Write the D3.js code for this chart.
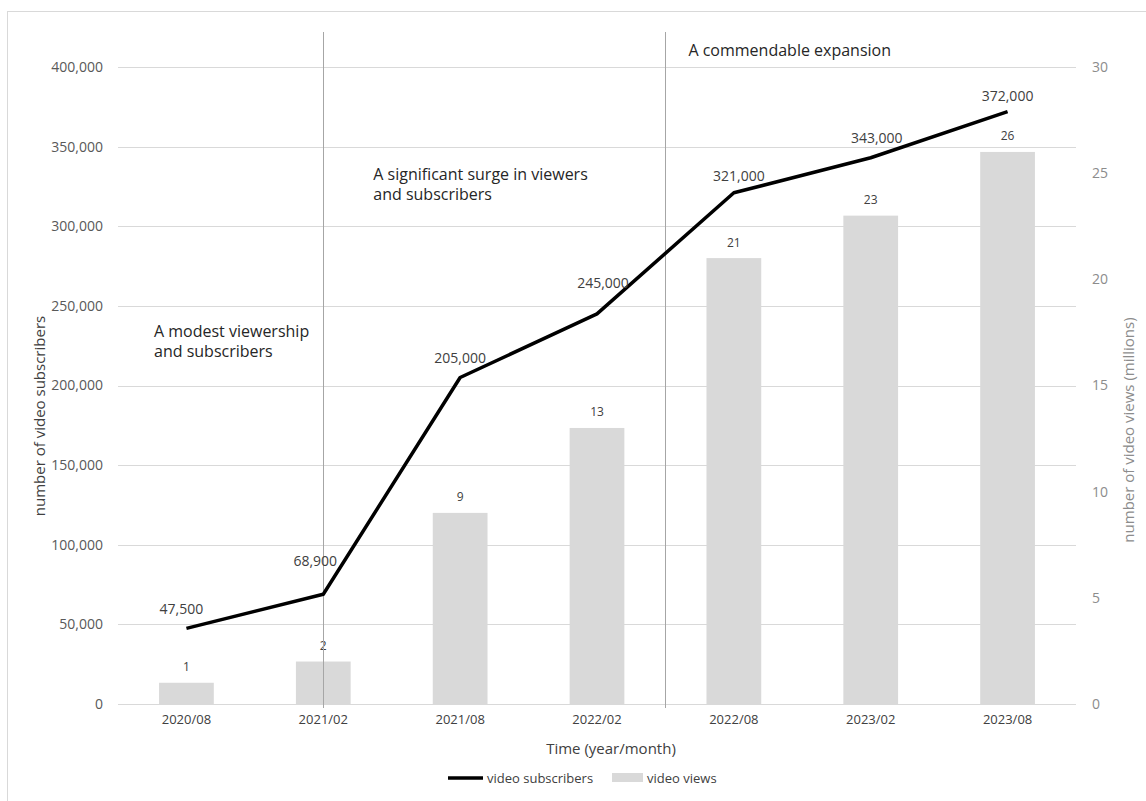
<!DOCTYPE html>
<html>
<head>
<meta charset="utf-8">
<script src="https://cdn.jsdelivr.net/npm/d3@7"></script>
<style>
  html, body { margin: 0; padding: 0; background: #fff; }
  svg { display: block; }
  text { font-family: "Open Sans", "Liberation Sans", sans-serif; }
</style>
</head>
<body>
<svg id="chart" width="1146" height="801"></svg>
<script>
// ---- data ----
const categories = ["2020/08", "2021/02", "2021/08", "2022/02", "2022/08", "2023/02", "2023/08"];
const subscribers = [47500, 68900, 205000, 245000, 321000, 343000, 372000];
const views = [1, 2, 9, 13, 21, 23, 26];
const leftTicks = [0, 50000, 100000, 150000, 200000, 250000, 300000, 350000, 400000];
const rightTicks = [0, 5, 10, 15, 20, 25, 30];
const seriesNames = ["video subscribers", "video views"];
const axisTitles = { x: "Time (year/month)", yLeft: "number of video subscribers", yRight: "number of video views (millions)" };
const notes = [
  ["A modest viewership", "and subscribers"],
  ["A significant surge in viewers", "and subscribers"],
  ["A commendable expansion"]
];

// ---- layout ----
const svg = d3.select("#chart");
const plot = { left: 118, right: 1076, top: 67, bottom: 704 };

const x = d3.scaleBand().domain(categories).range([plot.left, plot.right]).paddingInner(0.6).paddingOuter(0.3);
const cx = c => x(c) + x.bandwidth() / 2;
const yL = d3.scaleLinear().domain([0, 400000]).range([plot.bottom, plot.top]);
const yR = d3.scaleLinear().domain([0, 30]).range([plot.bottom, plot.top]);

// outer frame
svg.append("rect").attr("x", 7.5).attr("y", 11.5).attr("width", 1200).attr("height", 900)
  .attr("fill", "none").attr("stroke", "#d9d9d9").attr("stroke-width", 1);

// gridlines
svg.append("g").selectAll("line").data(leftTicks).join("line")
  .attr("x1", plot.left).attr("x2", plot.right)
  .attr("y1", d => Math.round(yL(d)) + 0.5).attr("y2", d => Math.round(yL(d)) + 0.5)
  .attr("stroke", "#d9d9d9").attr("stroke-width", 1);

// left axis labels
const leftAxis = d3.axisLeft(yL).tickValues(leftTicks).tickFormat(d3.format(",")).tickSize(0).tickPadding(15);
const gL = svg.append("g").attr("transform", `translate(${plot.left},0)`).call(leftAxis);
gL.select(".domain").remove();
gL.selectAll("text").attr("font-size", 14).attr("fill", "#595959").attr("font-family", "Open Sans");

// right axis labels
const rightAxis = d3.axisRight(yR).tickValues(rightTicks).tickSize(0).tickPadding(16);
const gR = svg.append("g").attr("transform", `translate(${plot.right},0)`).call(rightAxis);
gR.select(".domain").remove();
gR.selectAll("text").attr("font-size", 14).attr("fill", "#8c8c8c").attr("font-family", "Open Sans");

// bottom axis labels
const bottomAxis = d3.axisBottom(x).tickSize(0).tickPadding(11);
const gB = svg.append("g").attr("transform", `translate(0,${plot.bottom})`).call(bottomAxis);
gB.select(".domain").remove();
gB.selectAll("text").attr("font-size", 13).attr("fill", "#404040").attr("font-family", "Open Sans");

// bars (video views, right axis)
svg.append("g").selectAll("rect").data(categories).join("rect")
  .attr("x", d => x(d))
  .attr("width", x.bandwidth())
  .attr("y", (d, i) => yR(views[i]))
  .attr("height", (d, i) => plot.bottom - yR(views[i]))
  .attr("fill", "#d9d9d9");

// bar labels
svg.append("g").selectAll("text").data(categories).join("text")
  .attr("x", d => cx(d))
  .attr("y", (d, i) => yR(views[i]) - 16)
  .attr("text-anchor", "middle").attr("dominant-baseline", "central")
  .attr("font-size", 12).attr("fill", "#404040")
  .text((d, i) => views[i]);

// annotation dividers
const step = x.step();
const divX = [cx("2021/02"), (cx("2022/02") + cx("2022/08")) / 2];
svg.append("g").selectAll("line").data(divX).join("line")
  .attr("x1", d => Math.round(d) + 0.5).attr("x2", d => Math.round(d) + 0.5)
  .attr("y1", 32).attr("y2", 708)
  .attr("stroke", "#a6a6a6").attr("stroke-width", 1);

// subscribers line (left axis)
const line = d3.line().x((d, i) => cx(categories[i])).y(d => yL(d));
svg.append("path").datum(subscribers)
  .attr("d", line).attr("fill", "none")
  .attr("stroke", "#000").attr("stroke-width", 3.5)
  .attr("stroke-linejoin", "round");

// line labels
const liftExtra = { "2021/02": 14, "2022/02": 11, "2022/08": -3, "2023/08": -4 };
const shiftX = { "2020/08": -5, "2021/02": -8, "2022/02": 6, "2022/08": 5, "2023/02": 6 };
svg.append("g").selectAll("text").data(categories).join("text")
  .attr("x", d => cx(d) + (shiftX[d] || 0))
  .attr("y", (d, i) => yL(subscribers[i]) - 20 - (liftExtra[d] || 0))
  .attr("text-anchor", "middle").attr("dominant-baseline", "central")
  .attr("font-size", 14).attr("fill", "#404040")
  .text((d, i) => d3.format(",")(subscribers[i]));

// annotations
const notePos = [
  { x: plot.left + 36, y: 331 },
  { x: divX[0] + 50, y: 174 },
  { x: divX[1] + 23, y: 50 }
];
notes.forEach((lines, k) => {
  const t = svg.append("text").attr("x", notePos[k].x).attr("y", notePos[k].y)
    .attr("font-size", 16).attr("fill", "#262626");
  lines.forEach((s, j) => {
    t.append("tspan").attr("x", notePos[k].x).attr("y", notePos[k].y + j * 20)
      .attr("dominant-baseline", "central").text(s);
  });
});

// axis titles
svg.append("text").attr("x", 611).attr("y", 748)
  .attr("text-anchor", "middle").attr("dominant-baseline", "central")
  .attr("font-size", 15).attr("fill", "#404040").text(axisTitles.x);
svg.append("text").attr("transform", "translate(39,416) rotate(-90)")
  .attr("text-anchor", "middle").attr("dominant-baseline", "central")
  .attr("font-size", 15).attr("fill", "#404040").text(axisTitles.yLeft);
svg.append("text").attr("transform", "translate(1128,430) rotate(-90)")
  .attr("text-anchor", "middle").attr("dominant-baseline", "central")
  .attr("font-size", 15).attr("fill", "#8c8c8c").text(axisTitles.yRight);

// legend
const lg = svg.append("g");
lg.append("line").attr("x1", 448).attr("x2", 483).attr("y1", 778).attr("y2", 778)
  .attr("stroke", "#000").attr("stroke-width", 3.5);
lg.append("text").attr("x", 487).attr("y", 778).attr("dominant-baseline", "central")
  .attr("font-size", 13).attr("fill", "#404040").text(seriesNames[0]);
lg.append("rect").attr("x", 612).attr("y", 773).attr("width", 31).attr("height", 9).attr("fill", "#d9d9d9");
lg.append("text").attr("x", 647).attr("y", 778).attr("dominant-baseline", "central")
  .attr("font-size", 13).attr("fill", "#404040").text(seriesNames[1]);
</script>
</body>
</html>
